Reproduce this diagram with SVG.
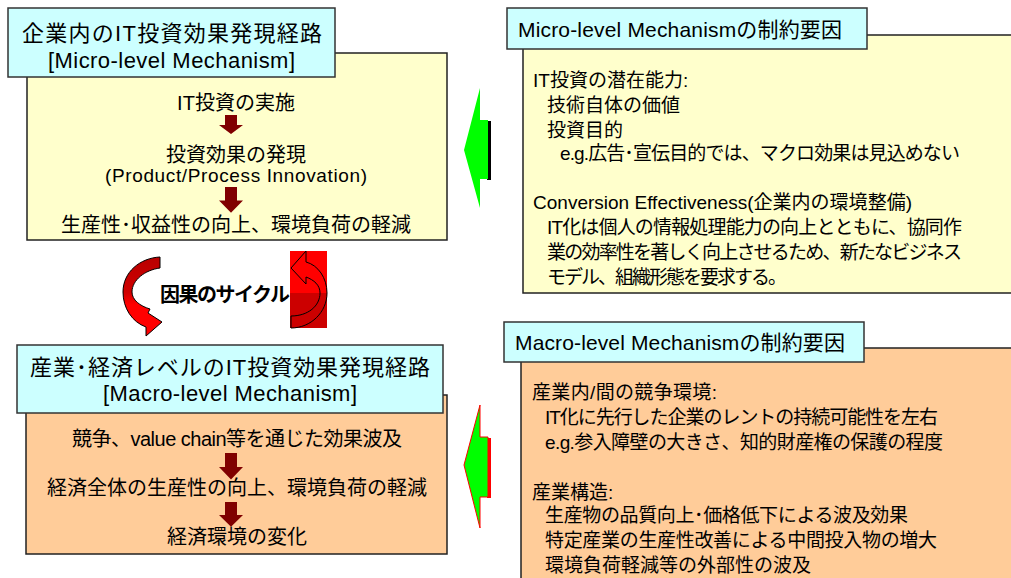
<svg xmlns="http://www.w3.org/2000/svg" width="1011" height="578" viewBox="0 0 1011 578">
<defs>
<style>
text{font-family:"Liberation Sans","Noto Sans CJK JP",sans-serif;fill:#000}
.t{font-size:22px}
.b{font-size:20px}
.r{font-size:19px}
.h{font-size:21px}
.cy{fill:#CCFFFF;stroke:#333;stroke-width:1.5}
.ye{fill:#FFFFCC;stroke:#222;stroke-width:1.5}
.or{fill:#FFCC99;stroke:#222;stroke-width:1.5}
.da{fill:#800000}
</style>
<linearGradient id="lg" x1="0" y1="0" x2="0" y2="1">
<stop offset="0" stop-color="#B80000"/>
<stop offset="0.45" stop-color="#D00000"/>
<stop offset="0.6" stop-color="#FF0000"/>
<stop offset="1" stop-color="#FF0000"/>
</linearGradient>
<path id="down" d="M-6,0 H6 V10 H12 L0,19 L-12,10 H-6 Z"/>
</defs>

<g id="micro">
<rect class="ye" x="27" y="53" width="420" height="187"/>
<rect class="cy" x="8" y="8" width="327" height="69"/>
<text class="t" x="22" y="41" textLength="300">企業内のIT投資効果発現経路</text>
<text class="t" x="48" y="68" textLength="247">[Micro-level Mechanism]</text>
<text class="b" x="236" y="110" text-anchor="middle">IT投資の実施</text>
<text class="b" x="236" y="162" text-anchor="middle">投資効果の発現</text>
<text class="r" x="105" y="182" textLength="262">(Product/Process Innovation)</text>
<text class="b" x="236" y="232" text-anchor="middle">生産性･収益性の向上、環境負荷の軽減</text>
</g>

<g id="macro">
<rect class="or" x="26" y="395" width="421" height="159"/>
<rect class="cy" x="17" y="345" width="426" height="68"/>
<text class="t" x="30" y="375" textLength="400">産業･経済レベルのIT投資効果発現経路</text>
<text class="t" x="103" y="401" textLength="254">[Macro-level Mechanism]</text>
<text class="b" x="72" y="446" textLength="330">競争、value chain等を通じた効果波及</text>
<text class="b" x="237" y="495" text-anchor="middle">経済全体の生産性の向上、環境負荷の軽減</text>
<text class="b" x="237" y="544" text-anchor="middle">経済環境の変化</text>
</g>

<g id="micro-constraints">
<rect class="ye" x="523" y="35" width="495" height="258"/>
<rect class="cy" x="507" y="8" width="360" height="41"/>
<text class="h" x="518" y="37" textLength="324">Micro-level Mechanismの制約要因</text>
<text class="r" x="533" y="87">IT投資の潜在能力:</text>
<text class="r" x="547" y="112">技術自体の価値</text>
<text class="r" x="547" y="137">投資目的</text>
<text class="r" x="560" y="160" textLength="400">e.g.広告･宣伝目的では、マクロ効果は見込めない</text>
<text class="r" x="533" y="209" textLength="379">Conversion Effectiveness(企業内の環境整備)</text>
<text class="r" x="547" y="234" textLength="415">IT化は個人の情報処理能力の向上とともに、協同作</text>
<text class="r" x="547" y="259" textLength="415">業の効率性を著しく向上させるため、新たなビジネス</text>
<text class="r" x="547" y="284" textLength="240">モデル、組織形態を要求する。</text>
</g>

<g id="macro-constraints">
<rect class="or" x="521" y="348" width="497" height="240"/>
<rect class="cy" x="504" y="322" width="360" height="40"/>
<text class="h" x="515" y="350" textLength="330">Macro-level Mechanismの制約要因</text>
<text class="r" x="532" y="399" textLength="185">産業内/間の競争環境:</text>
<text class="r" x="545" y="424" textLength="393">IT化に先行した企業のレントの持続可能性を左右</text>
<text class="r" x="545" y="449" textLength="398">e.g.参入障壁の大きさ、知的財産権の保護の程度</text>
<text class="r" x="532" y="499">産業構造:</text>
<text class="r" x="545" y="522" textLength="363">生産物の品質向上･価格低下による波及効果</text>
<text class="r" x="545" y="547" textLength="392">特定産業の生産性改善による中間投入物の増大</text>
<text class="r" x="545" y="572">環境負荷軽減等の外部性の波及</text>
</g>

<g id="connectors">
<use href="#down" class="da" x="231" y="115"/>
<use href="#down" class="da" transform="translate(231,187) scale(1,1.35)"/>
<use href="#down" class="da" transform="translate(231,453) scale(1,1.4)"/>
<use href="#down" class="da" transform="translate(231,502) scale(1,1.3)"/>

<rect x="487" y="121" width="4" height="59" fill="#000"/>
<path d="M464,150 L480,88 V120 H488 V179 H480 V208 Z" fill="#00FF00"/>

<rect x="487" y="438" width="4" height="60" fill="#FF0000"/>
<path d="M464,465 L480,405 V437 H488 V497 H480 V528 Z" fill="#00FF00" stroke="#FF0000" stroke-width="1"/>

<path d="M160,257 L160,268 C145,270 132,280 132,292 C132,300 140,306 150,309 L148,313 L162,322 L146,336 L146,327 C132,322 123,308 123,292 C123,272 140,258 160,257 Z" fill="url(#lg)" stroke="#000" stroke-width="1"/>

<rect x="290" y="251" width="37" height="42" fill="#FF0000"/>
<rect x="290" y="293" width="37" height="35" fill="#CC0000"/>
<path d="M291,328 L291,316 C308,316 320,306 320,293 C320,285 314,280 306,277 L306,284 L291,268 L306,251 L306,262 C318,265 327,278 327,293 C327,312 311,328 291,328 Z" fill="none" stroke="#000" stroke-width="1"/>
<text x="160" y="302" font-size="20" font-weight="bold" textLength="130">因果のサイクル</text>
</g>
</svg>
